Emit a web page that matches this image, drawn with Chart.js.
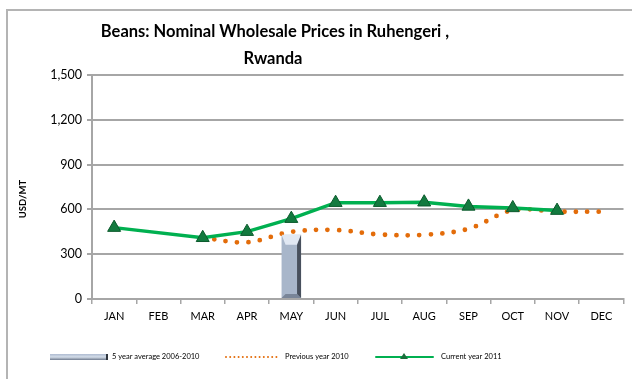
<!DOCTYPE html>
<html>
<head>
<meta charset="utf-8">
<script src="https://cdn.jsdelivr.net/npm/chart.js@4/dist/chart.umd.min.js"></script>
<style>
  html, body { margin: 0; padding: 0; background: #fff; }
  #wrap { width: 632px; height: 379px; }
</style>
</head>
<body>
<div id="wrap"><canvas id="beansChart" width="632" height="379"></canvas></div>
<script>
const months = ['JAN', 'FEB', 'MAR', 'APR', 'MAY', 'JUN', 'JUL', 'AUG', 'SEP', 'OCT', 'NOV', 'DEC'];
const fiveYearAverage = [null, null, null, null, 430, null, null, null, null, null, null, null];
const previousYear = [null, null, 410, 380, 450, 462, 432, 430, 470, 595, 585, 585];
const currentYear = [478, null, 410, 451, 538, 645, 645, 648, 620, 610, 592, null];
const yTicks = [0, 300, 600, 900, 1200, 1500];

const titleLines = ['Beans: Nominal Wholesale Prices in Ruhengeri ,', 'Rwanda'];
const legendLabels = ['5 year average 2006-2010', 'Previous year 2010', 'Current year 2011'];

const GREEN = '#00b050';
const ORANGE = '#e36c0a';
const GRID = '#a6a6a6';

function barGradient(ctx, left, right) {
    const g = ctx.createLinearGradient(left, 0, right, 0);
    g.addColorStop(0, '#8e9db3');
    g.addColorStop(0.35, '#c3cfe0');
    g.addColorStop(0.7, '#a8b6ca');
    g.addColorStop(1, '#5e6878');
    return g;
}

// frame, title, axis title, legend and the bevel on the bar
const decorations = {
    id: 'decorations',
    beforeDraw(chart) {
        const ctx = chart.ctx;
        ctx.save();
        ctx.fillStyle = '#fff';
        ctx.fillRect(0, 0, chart.width, chart.height);
        ctx.strokeStyle = '#b4b4b4';
        ctx.lineWidth = 2;
        ctx.strokeRect(7, 10, chart.width + 20, chart.height + 20);
        ctx.restore();
    },
    afterDatasetsDraw(chart) {
        const ctx = chart.ctx;
        const meta = chart.getDatasetMeta(0);
        meta.data.forEach((bar, i) => {
            if (fiveYearAverage[i] == null) return;
            const w = bar.width, l = bar.x - w / 2, r = bar.x + w / 2;
            const t = bar.y, b = bar.base, e = 4;
            ctx.save();
            ctx.fillStyle = 'rgba(235,241,250,0.85)';
            ctx.beginPath();
            ctx.moveTo(l, t); ctx.lineTo(r, t); ctx.lineTo(r - e, t + e * 2.5); ctx.lineTo(l + e, t + e * 2.5);
            ctx.closePath(); ctx.fill();
            ctx.fillStyle = 'rgba(40,46,56,0.75)';
            ctx.beginPath();
            ctx.moveTo(r, t); ctx.lineTo(r, b); ctx.lineTo(r - e, b - e); ctx.lineTo(r - e, t + e * 2.5);
            ctx.closePath(); ctx.fill();
            ctx.fillStyle = 'rgba(90,100,118,0.6)';
            ctx.beginPath();
            ctx.moveTo(l, b); ctx.lineTo(r, b); ctx.lineTo(r - e, b - e); ctx.lineTo(l + e, b - e);
            ctx.closePath(); ctx.fill();
            ctx.restore();
        });
    },
    afterDraw(chart) {
        const ctx = chart.ctx;
        ctx.save();
        ctx.fillStyle = '#000';
        ctx.textAlign = 'center';
        ctx.textBaseline = 'middle';
        ctx.font = 'bold 16.5px Lato';
        ctx.fillText(titleLines[0], 275, 32);
        ctx.fillText(titleLines[1], 273, 59);

        ctx.font = 'bold 9.5px Lato';
        ctx.translate(23, 199);
        ctx.rotate(-Math.PI / 2);
        ctx.fillText('USD/MT', 0, 0);
        ctx.restore();

        // legend
        const y = 357;
        ctx.save();
        ctx.font = '7.5px Lato';
        ctx.fillStyle = '#000';
        ctx.textBaseline = 'middle';
        ctx.textAlign = 'left';

        const lg = ctx.createLinearGradient(0, y - 3, 0, y + 3);
        lg.addColorStop(0, '#aebbd0');
        lg.addColorStop(0.5, '#d4dde9');
        lg.addColorStop(1, '#6f7b8e');
        ctx.fillStyle = lg;
        ctx.fillRect(50, y - 3, 57, 6);
        ctx.fillStyle = '#2e343d';
        ctx.fillRect(106, y - 3, 2, 6);
        ctx.fillStyle = '#000';
        ctx.fillText(legendLabels[0], 112, y);

        ctx.strokeStyle = ORANGE;
        ctx.lineWidth = 2;
        ctx.lineCap = 'round';
        ctx.setLineDash([0, 4.2]);
        ctx.beginPath(); ctx.moveTo(226, y); ctx.lineTo(277, y); ctx.stroke();
        ctx.setLineDash([]);
        ctx.fillText(legendLabels[1], 285, y);

        ctx.strokeStyle = GREEN;
        ctx.lineWidth = 2;
        ctx.beginPath(); ctx.moveTo(376, y); ctx.lineTo(433, y); ctx.stroke();
        ctx.fillStyle = '#1b6e3c';
        ctx.beginPath(); ctx.moveTo(404, y - 4); ctx.lineTo(408, y + 2); ctx.lineTo(400, y + 2); ctx.closePath(); ctx.fill();
        ctx.fillStyle = '#000';
        ctx.fillText(legendLabels[2], 441, y);
        ctx.restore();
    }
};

const ctx = document.getElementById('beansChart').getContext('2d');
new Chart(ctx, {
    type: 'bar',
    data: {
        labels: months,
        datasets: [{
            label: legendLabels[0],
            data: fiveYearAverage,
            backgroundColor: (c) => {
                const el = c.element;
                if (!el || !el.width) return '#a8b6ca';
                return barGradient(c.chart.ctx, el.x - el.width / 2, el.x + el.width / 2);
            },
            borderWidth: 0,
            categoryPercentage: 0.8,
            barPercentage: 0.55,
            order: 3
        }, {
            type: 'line',
            label: legendLabels[1],
            data: previousYear,
            borderColor: ORANGE,
            borderWidth: 4.8,
            borderDash: [0, 11.5],
            borderCapStyle: 'round',
            tension: 0.35,
            pointRadius: 0,
            fill: false,
            order: 2
        }, {
            type: 'line',
            label: legendLabels[2],
            data: currentYear,
            borderColor: GREEN,
            borderWidth: 3.5,
            spanGaps: true,
            tension: 0,
            pointStyle: 'triangle',
            pointRadius: 7.5,
            pointBackgroundColor: '#137a3f',
            pointBorderColor: '#0b5a2c',
            pointBorderWidth: 1,
            fill: false,
            order: 1
        }]
    },
    options: {
        responsive: false,
        animation: false,
        layout: { padding: { top: 75, right: 2, left: 0, bottom: 0 } },
        plugins: {
            legend: { display: false },
            title: { display: false },
            tooltip: { enabled: false }
        },
        scales: {
            x: {
                offset: true,
                grid: { drawOnChartArea: false, drawTicks: true, tickLength: 5, color: GRID, lineWidth: 1.5, offset: true },
                border: { color: GRID, width: 2 },
                ticks: { color: '#000', font: { family: 'Lato', size: 11 }, padding: 6 },
                afterFit(scale) { scale.height = 80; }
            },
            y: {
                min: 0,
                max: 1500,
                afterBuildTicks(scale) { scale.ticks = yTicks.map(v => ({ value: v })); },
                grid: { color: GRID, lineWidth: 2, tickLength: 5 },
                border: { color: GRID, width: 2 },
                ticks: { color: '#000', font: { family: 'Lato', size: 12.5 }, padding: 5 },
                afterFit(scale) { scale.width = 92; }
            }
        }
    },
    plugins: [decorations]
});
</script>
</body>
</html>
